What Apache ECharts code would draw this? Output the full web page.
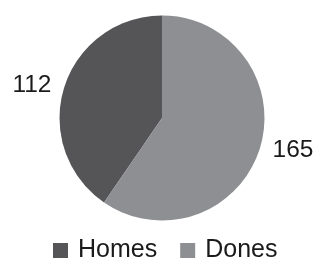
<!DOCTYPE html>
<html><head><meta charset="utf-8">
<script src="https://cdn.jsdelivr.net/npm/echarts@6/dist/echarts.min.js"></script>
<style>html,body{margin:0;padding:0;background:#fff}#c{width:317px;height:262px}</style>
</head><body><div id="c"></div>
<script>
const categories = ['Homes', 'Dones'];
const values = [112, 165];
const colors = ['#555557', '#8e8f92'];

const chart = echarts.init(document.getElementById('c'), null, {renderer: 'canvas'});
chart.setOption({
  animation: false,
  legend: {
    left: 53, top: 238, padding: 0,
    itemWidth: 15, itemHeight: 15, itemGap: 23,
    icon: 'rect',
    data: categories,
    textStyle: {fontFamily: 'Liberation Sans, Arial', fontSize: 25, color: '#1a1a1a', padding: [0, 0, 0, 5]}
  },
  series: [{
    type: 'pie',
    center: [162, 118],
    radius: 102.5,
    startAngle: 90,
    clockwise: false,
    avoidLabelOverlap: false,
    label: {
      show: true, position: 'outside', formatter: '{c}',
      fontFamily: 'Liberation Sans, Arial', fontSize: 24.5, color: '#1a1a1a',
      distanceToLabelLine: 5
    },
    labelLine: {show: false, length: 8, length2: 0},
    itemStyle: {borderWidth: 0},
    emphasis: {disabled: true},
    data: categories.map((c, i) => ({name: c, value: values[i], itemStyle: {color: colors[i]}}))
  }]
});
</script></body></html>
